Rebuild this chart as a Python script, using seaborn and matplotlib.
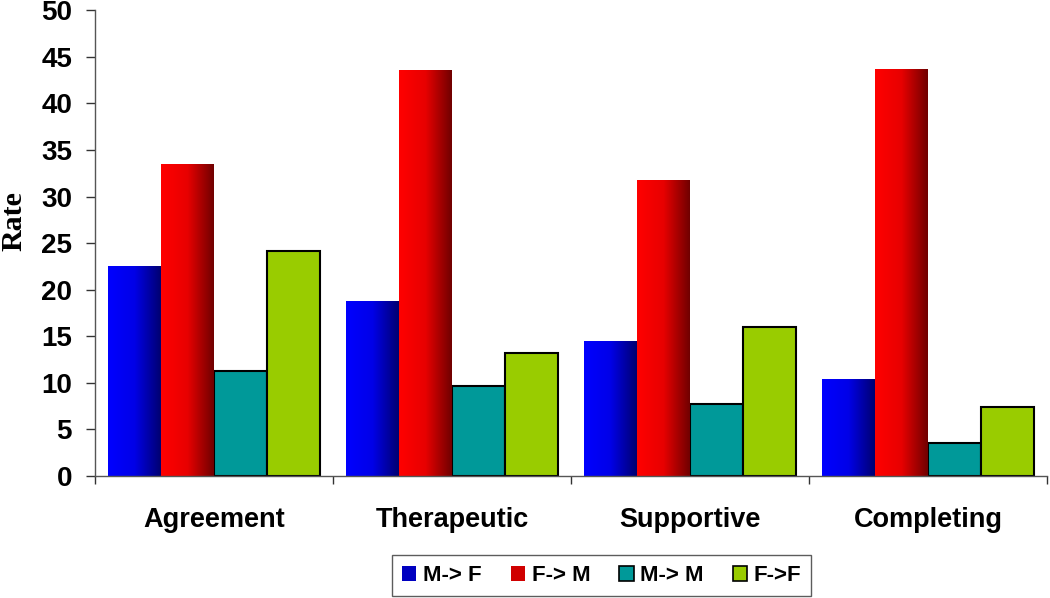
import matplotlib
matplotlib.use("Agg")
import matplotlib.pyplot as plt
import seaborn as sns
import numpy as np
import pandas as pd
from matplotlib.colors import LinearSegmentedColormap
from matplotlib.patches import Patch

categories = ["Agreement", "Therapeutic", "Supportive", "Completing"]
series = ["M-> F", "F-> M", "M-> M", "F->F"]
m_to_f = [22.5, 18.8, 14.5, 10.4]
f_to_m = [33.5, 43.6, 31.8, 43.7]
m_to_m = [11.3, 9.7, 7.7, 3.5]
f_to_f = [24.2, 13.2, 16.0, 7.4]

rows = []
for name, vals in zip(series, [m_to_f, f_to_m, m_to_m, f_to_f]):
    for cat, v in zip(categories, vals):
        rows.append({"category": cat, "series": name, "rate": v})
df = pd.DataFrame(rows)

colors = ["#0000ff", "#ff0000", "#009999", "#99cc00"]
gradients = {
    0: LinearSegmentedColormap.from_list("blue_g", ["#0000ff", "#0000e8", "#000070"]),
    1: LinearSegmentedColormap.from_list("red_g", ["#ff0000", "#e80000", "#700000"]),
}

sns.set_style("white")
plt.rcParams["font.family"] = ["Liberation Sans", "DejaVu Sans"]
plt.rcParams["text.color"] = "black"
plt.rcParams["xtick.color"] = "black"
plt.rcParams["ytick.color"] = "black"

fig = plt.figure(figsize=(10.5, 5.98), dpi=100)
ax = fig.add_axes([0.0905, 0.204, 0.907, 0.779])

sns.barplot(data=df, x="category", y="rate", hue="series", order=categories,
            hue_order=series, palette=colors, saturation=1, width=0.89, dodge=True,
            edgecolor="black", linewidth=1.5, legend=False, ax=ax, errorbar=None)

# gradient fill for the first two series
grad = np.linspace(0, 1, 256).reshape(1, -1)
for i, cont in enumerate(ax.containers):
    for bar in cont:
        if i in gradients:
            bar.set_edgecolor("none")
            x, y = bar.get_x(), bar.get_y()
            w, h = bar.get_width(), bar.get_height()
            im = ax.imshow(grad, cmap=gradients[i], aspect="auto",
                           extent=[x, x + w, y, y + h], zorder=bar.get_zorder() + 0.1)
            im.set_clip_path(bar)

ax.set_xlim(-0.5, len(categories) - 0.5)
ax.set_ylim(0, 50)
ax.set_yticks(np.arange(0, 51, 5))
ax.set_xticks(np.arange(-0.5, len(categories), 1.0), minor=True)
ax.tick_params(axis="x", which="major", bottom=False, length=0, pad=22, labelsize=19.5,
               labelcolor="black")
ax.tick_params(axis="x", which="minor", bottom=True, length=6, width=1, color="#333333",
               direction="out")
ax.tick_params(axis="y", left=True, length=6.5, width=1, color="#333333", direction="out",
               labelsize=20, pad=10, labelcolor="black")
for lab in ax.get_xticklabels() + ax.get_yticklabels():
    lab.set_fontweight("bold")

ax.set_xlabel("")
ax.set_ylabel("")
fig.text(14 / 1050, 1 - 221 / 598, "Rate", rotation=90, ha="center", va="center",
         fontsize=21.5, fontweight="bold", color="black",
         family=["Liberation Serif", "DejaVu Serif"])

sns.despine(ax=ax)
for side in ["left", "bottom"]:
    ax.spines[side].set_color("#555555")
    ax.spines[side].set_linewidth(1)

handles = [Patch(facecolor="#0000c0", edgecolor="none"),
           Patch(facecolor="#d00000", edgecolor="none"),
           Patch(facecolor=colors[2], edgecolor="black", linewidth=1.2),
           Patch(facecolor=colors[3], edgecolor="black", linewidth=1.2)]
leg = fig.legend(handles, series, loc="center", bbox_to_anchor=(0.573, 0.037), ncol=4,
                 frameon=True, fancybox=False, edgecolor="#333333",
                 handlelength=0.65, handleheight=0.65, handletextpad=0.3, columnspacing=1.3,
                 borderpad=0.45, prop={"weight": "bold", "size": 16})
leg.get_frame().set_linewidth(1)
for t in leg.get_texts():
    t.set_color("black")

fig.savefig("out.png", dpi=100)
